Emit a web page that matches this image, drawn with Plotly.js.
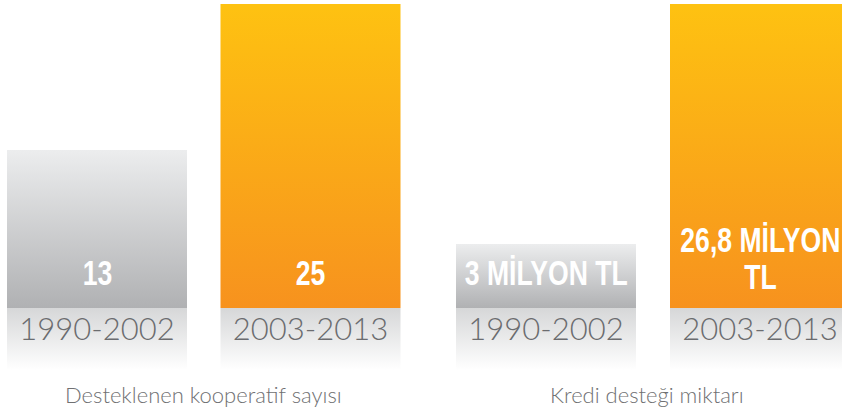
<!DOCTYPE html>
<html>
<head>
<meta charset="utf-8">
<script src="https://cdn.plot.ly/plotly-3.0.1.min.js"></script>
<style>
  html, body { margin: 0; padding: 0; background: #ffffff; }
  #chart { width: 842px; height: 412px; }
</style>
</head>
<body>
<div id="chart"></div>
<script>
// ---- data ----
const groupTitles = ["Desteklenen kooperatif sayısı", "Kredi desteği miktarı"];
const periods = ["1990-2002", "2003-2013"];
const cooperatives = [13, 25];
const credit = [3, 26.8];               // milyon TL
const cooperativeLabels = ["13", "25"];
const creditLabels = ["3 MİLYON TL", "26,8 MİLYON\nTL"];

// ---- layout constants (pixels) ----
const W = 842, H = 412;
const baselinePx = 308;   // bar bottom, from top
const topPx = 4;          // top of tallest bar
const bandPx = 62;        // fading label band under bars
const creditBase = -3.35; // truncated baseline of credit axis
const condense = 0.76;    // horizontal squeeze of the value labels

function yAxisSetup(values, base) {
  const maxV = Math.max(...values);
  const unit = (baselinePx - topPx) / (maxV - base);
  return {
    unit: unit,
    range: [base - (H - baselinePx) / unit, maxV + topPx / unit]
  };
}
const yL = yAxisSetup(cooperatives, 0);
const yR = yAxisSetup(credit, creditBase);

const GRAY = '#c8c9ca', ORANGE = '#f9a91e', BAND = '#ebebec';
const barColors = [GRAY, ORANGE];

function barTrace(values, base, xa, ya, width) {
  return {
    type: 'bar', x: periods, y: values.map(v => v - base), base: base,
    xaxis: xa, yaxis: ya, width: width,
    marker: { color: barColors, line: { width: 0 } },
    hoverinfo: 'skip', showlegend: false
  };
}
function bandTrace(base, unit, xa, ya, width) {
  return {
    type: 'bar', x: periods, y: periods.map(() => -bandPx / unit), base: base,
    xaxis: xa, yaxis: ya, width: width,
    marker: { color: BAND, line: { width: 0 } },
    hoverinfo: 'skip', showlegend: false
  };
}

const wL = 180 / 213.5, wR = 180 / 214;
const data = [
  bandTrace(0, yL.unit, 'x', 'y', wL),
  barTrace(cooperatives, 0, 'x', 'y', wL),
  bandTrace(creditBase, yR.unit, 'x2', 'y2', wR),
  barTrace(credit, creditBase, 'x2', 'y2', wR)
];

const valueFont = { family: '"Liberation Sans", Arial, sans-serif', size: 35, color: '#ffffff', weight: 700 };
const annotations = [];
function addValueLabels(labels, xref, yref, base) {
  labels.forEach((lab, i) => {
    const lines = lab.split('\n').reverse();
    lines.forEach((ln, k) => {
      annotations.push({
        x: periods[i], y: base, xref: xref, yref: yref,
        text: ln, showarrow: false, yanchor: 'bottom', xanchor: 'center',
        yshift: (lines.length > 1 ? 10 : 14) + k * 37, font: valueFont
      });
    });
  });
}
addValueLabels(cooperativeLabels, 'x', 'y', 0);
addValueLabels(creditLabels, 'x2', 'y2', creditBase);
const nValueAnn = annotations.length;

const titleFont = { family: 'Lato, "Open Sans", sans-serif', size: 22, color: '#6f7072', weight: 300 };
annotations.push({ x: 0.5, y: 394, xref: 'x', yref: 'paper', text: groupTitles[0], showarrow: false, font: titleFont });
annotations.push({ x: 0.47, y: 394, xref: 'x2', yref: 'paper', text: groupTitles[1], showarrow: false, font: titleFont });
annotations.forEach(a => { if (a.yref === 'paper') { a.y = 1 - a.y / H; a.yanchor = 'middle'; } });

const tickFont = { family: 'Lato, "Open Sans", sans-serif', size: 31, color: '#6b6c6f', weight: 300 };
function xAxis(domain, range) {
  return {
    domain: domain, range: range, type: 'category', anchor: 'free',
    position: (H - baselinePx) / H, showgrid: false, zeroline: false,
    showline: false, ticks: '', tickfont: tickFont, fixedrange: true
  };
}
function yAxis(range, anchor) {
  return { range: range, visible: false, anchor: anchor, fixedrange: true };
}

const layout = {
  width: W, height: H,
  margin: { l: 0, r: 0, t: 0, b: 0, pad: 0 },
  paper_bgcolor: '#ffffff', plot_bgcolor: 'rgba(0,0,0,0)',
  barmode: 'overlay', showlegend: false,
  xaxis: xAxis([0, 0.5], [(0 - 97) / 213.5, (421 - 97) / 213.5]),
  xaxis2: xAxis([0.5, 1], [(421 - 546) / 214, (842 - 546) / 214]),
  yaxis: yAxis(yL.range, 'x'),
  yaxis2: yAxis(yR.range, 'x2'),
  annotations: annotations
};

const gd = document.getElementById('chart');
Plotly.newPlot(gd, data, layout, { displayModeBar: false, staticPlot: true }).then(finish);

function finish() {
  applyGradients();
  condenseValueLabels();
}

function condenseValueLabels() {
  gd.querySelectorAll('g.annotation').forEach(g => {
    const idx = +g.getAttribute('data-index');
    if (idx >= nValueAnn) return;
    g.querySelectorAll('text').forEach(t => {
      t.removeAttribute('clip-path');
      t.style.clipPath = 'none';
      t.style.transformBox = 'fill-box';
      t.style.transformOrigin = 'center';
      t.style.transform = 'scaleX(' + condense + ')';
    });
  });
}

function applyGradients() {
  const svg = gd.querySelector('svg.main-svg');
  const defs = svg.querySelector('defs');
  const NS = 'http://www.w3.org/2000/svg';
  const grads = {
    gGray: [['0%', '#ecedee'], ['100%', '#b0b1b3']],
    gOrange: [['0%', '#fec211'], ['100%', '#f7921e']],
    gBand: [['0%', '#d6d7d8'], ['100%', '#ffffff']]
  };
  Object.keys(grads).forEach(id => {
    const lg = document.createElementNS(NS, 'linearGradient');
    lg.setAttribute('id', id);
    lg.setAttribute('x1', '0'); lg.setAttribute('y1', '0');
    lg.setAttribute('x2', '0'); lg.setAttribute('y2', '1');
    grads[id].forEach(([o, c]) => {
      const st = document.createElementNS(NS, 'stop');
      st.setAttribute('offset', o); st.setAttribute('stop-color', c);
      lg.appendChild(st);
    });
    defs.appendChild(lg);
  });
  const map = {
    'rgb(200, 201, 202)': 'gGray',
    'rgb(249, 169, 30)': 'gOrange',
    'rgb(235, 235, 236)': 'gBand'
  };
  gd.querySelectorAll('.bars path').forEach(p => {
    const f = p.style.fill;
    if (map[f]) p.style.fill = 'url(#' + map[f] + ')';
  });
}
</script>
</body>
</html>
